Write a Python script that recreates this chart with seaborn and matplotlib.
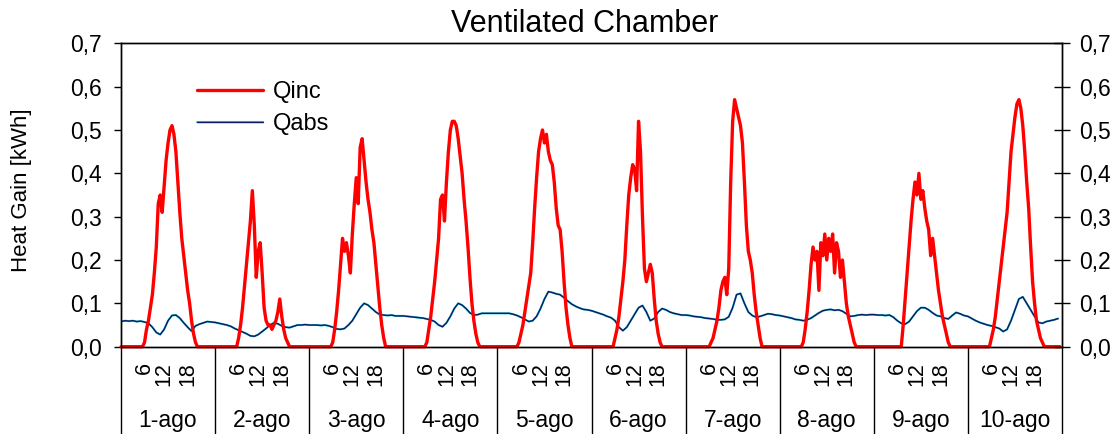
import numpy as np
import pandas as pd
import matplotlib
matplotlib.use("Agg")
import matplotlib.pyplot as plt
from matplotlib.legend_handler import HandlerTuple
import seaborn as sns

# ---------------------------------------------------------------- data
days = ["1-ago", "2-ago", "3-ago", "4-ago", "5-ago",
        "6-ago", "7-ago", "8-ago", "9-ago", "10-ago"]
hour_labels = ["6", "12", "18"]
hour_label_pos = [6, 11, 17]          # hour of the day where each label sits

# Incident heat gain, kWh, half-hourly samples (48 per day)
qinc_d01 = [0, 0, 0, 0, 0, 0, 0, 0, 0, 0, 0, 0,
            0.01, 0.04, 0.06, 0.09, 0.12, 0.17, 0.23, 0.33, 0.35, 0.31,
            0.37, 0.43, 0.47, 0.50, 0.51, 0.49, 0.45, 0.38, 0.31, 0.25,
            0.21, 0.17, 0.13, 0.10, 0.06, 0.03, 0.01,
            0, 0, 0, 0, 0, 0, 0, 0, 0]
qinc_d02 = [0, 0, 0, 0, 0, 0, 0, 0, 0, 0, 0, 0,
            0.02, 0.05, 0.09, 0.14, 0.19, 0.24, 0.29, 0.36, 0.28, 0.16,
            0.22, 0.24, 0.17, 0.09, 0.06, 0.05, 0.05, 0.04, 0.05, 0.06,
            0.08, 0.11, 0.07, 0.04, 0.02, 0.01, 0,
            0, 0, 0, 0, 0, 0, 0, 0, 0]
qinc_d03 = [0, 0, 0, 0, 0, 0, 0, 0, 0, 0, 0, 0,
            0.01, 0.04, 0.08, 0.13, 0.19, 0.25, 0.22, 0.24, 0.21, 0.17,
            0.26, 0.33, 0.39, 0.33, 0.46, 0.48, 0.43, 0.38, 0.34, 0.31,
            0.27, 0.24, 0.19, 0.14, 0.09, 0.05, 0.02, 0,
            0, 0, 0, 0, 0, 0, 0, 0]
qinc_d04 = [0, 0, 0, 0, 0, 0, 0, 0, 0, 0, 0, 0,
            0.01, 0.04, 0.07, 0.11, 0.15, 0.20, 0.25, 0.34, 0.35, 0.29,
            0.38, 0.45, 0.50, 0.52, 0.52, 0.51, 0.48, 0.44, 0.40, 0.34,
            0.29, 0.23, 0.16, 0.10, 0.06, 0.03, 0.01,
            0, 0, 0, 0, 0, 0, 0, 0, 0]
qinc_d05 = [0, 0, 0, 0, 0, 0, 0, 0, 0, 0, 0,
            0.01, 0.03, 0.05, 0.08, 0.11, 0.14, 0.17, 0.24, 0.32, 0.39,
            0.45, 0.48, 0.50, 0.47, 0.49, 0.45, 0.43, 0.42, 0.38, 0.32,
            0.28, 0.27, 0.22, 0.15, 0.09, 0.05, 0.02, 0,
            0, 0, 0, 0, 0, 0, 0, 0, 0]
qinc_d06 = [0, 0, 0, 0, 0, 0, 0, 0, 0, 0, 0, 0,
            0.02, 0.04, 0.07, 0.11, 0.15, 0.20, 0.28, 0.35, 0.39, 0.42,
            0.41, 0.36, 0.52, 0.45, 0.30, 0.18, 0.15, 0.17, 0.19, 0.17,
            0.11, 0.06, 0.03, 0.01, 0,
            0, 0, 0, 0, 0, 0, 0, 0, 0, 0, 0]
qinc_d07 = [0, 0, 0, 0, 0, 0, 0, 0, 0, 0, 0, 0, 0,
            0.01, 0.02, 0.04, 0.06, 0.09, 0.13, 0.15, 0.16, 0.12, 0.18,
            0.38, 0.52, 0.57, 0.55, 0.53, 0.51, 0.47, 0.38, 0.28, 0.22,
            0.20, 0.17, 0.12, 0.08, 0.05, 0.02, 0,
            0, 0, 0, 0, 0, 0, 0, 0]
qinc_d08 = [0, 0, 0, 0, 0, 0, 0, 0, 0, 0, 0, 0,
            0.01, 0.04, 0.08, 0.13, 0.19, 0.23, 0.20, 0.22, 0.13, 0.24,
            0.21, 0.26, 0.20, 0.25, 0.22, 0.26, 0.17, 0.24, 0.22, 0.16,
            0.20, 0.15, 0.10, 0.07, 0.05, 0.03, 0.01, 0,
            0, 0, 0, 0, 0, 0, 0, 0]
qinc_d09 = [0, 0, 0, 0, 0, 0, 0, 0, 0, 0, 0, 0, 0, 0,
            0.0, 0.05, 0.11, 0.17, 0.23, 0.29, 0.34, 0.38, 0.35, 0.40,
            0.34, 0.36, 0.32, 0.29, 0.27, 0.21, 0.25, 0.21, 0.17, 0.13,
            0.10, 0.07, 0.05, 0.03, 0.01, 0,
            0, 0, 0, 0, 0, 0, 0, 0]
qinc_d10 = [0, 0, 0, 0, 0, 0, 0, 0, 0, 0, 0, 0,
            0.02, 0.04, 0.07, 0.11, 0.15, 0.19, 0.23, 0.27, 0.31, 0.38,
            0.45, 0.49, 0.53, 0.56, 0.57, 0.55, 0.51, 0.45, 0.38, 0.32,
            0.23, 0.15, 0.10, 0.06, 0.04, 0.02, 0.01, 0,
            0, 0, 0, 0, 0, 0, 0, 0]

# Absorbed heat gain, kWh, hourly samples (24 per day)
qabs_d01 = [0.058, 0.060, 0.059, 0.060, 0.058, 0.059, 0.057, 0.054, 0.045, 0.033,
            0.028, 0.040, 0.060, 0.072, 0.073, 0.066, 0.055, 0.045, 0.036, 0.048,
            0.052, 0.055, 0.058, 0.057]
qabs_d02 = [0.056, 0.054, 0.052, 0.050, 0.047, 0.042, 0.038, 0.034, 0.030, 0.025,
            0.024, 0.028, 0.035, 0.042, 0.050, 0.055, 0.053, 0.048, 0.045, 0.044,
            0.047, 0.050, 0.050, 0.051]
qabs_d03 = [0.050, 0.050, 0.050, 0.049, 0.050, 0.048, 0.045, 0.041, 0.040, 0.042,
            0.050, 0.060, 0.075, 0.090, 0.100, 0.096, 0.088, 0.080, 0.074, 0.073,
            0.072, 0.073, 0.071, 0.071]
qabs_d04 = [0.071, 0.070, 0.069, 0.068, 0.067, 0.066, 0.064, 0.062, 0.058, 0.050,
            0.046, 0.055, 0.070, 0.088, 0.100, 0.096, 0.088, 0.078, 0.073, 0.074,
            0.077, 0.077, 0.077, 0.077]
qabs_d05 = [0.077, 0.077, 0.077, 0.077, 0.075, 0.072, 0.068, 0.063, 0.058, 0.060,
            0.070, 0.088, 0.110, 0.127, 0.125, 0.122, 0.120, 0.113, 0.105, 0.098,
            0.093, 0.089, 0.086, 0.085]
qabs_d06 = [0.083, 0.080, 0.077, 0.074, 0.070, 0.067, 0.060, 0.045, 0.037, 0.045,
            0.060, 0.075, 0.090, 0.095, 0.080, 0.060, 0.065, 0.080, 0.088, 0.085,
            0.080, 0.077, 0.075, 0.073]
qabs_d07 = [0.073, 0.072, 0.070, 0.069, 0.068, 0.066, 0.065, 0.064, 0.062, 0.062,
            0.063, 0.069, 0.090, 0.120, 0.123, 0.100, 0.080, 0.072, 0.068, 0.070,
            0.073, 0.076, 0.075, 0.073]
qabs_d08 = [0.072, 0.070, 0.068, 0.066, 0.063, 0.062, 0.060, 0.062, 0.066, 0.072,
            0.078, 0.083, 0.085, 0.086, 0.084, 0.085, 0.082, 0.076, 0.070, 0.071,
            0.073, 0.074, 0.073, 0.074]
qabs_d09 = [0.074, 0.073, 0.073, 0.072, 0.073, 0.068, 0.060, 0.054, 0.052, 0.058,
            0.070, 0.082, 0.090, 0.090, 0.085, 0.078, 0.072, 0.070, 0.066, 0.064,
            0.072, 0.079, 0.076, 0.072]
qabs_d10 = [0.070, 0.065, 0.060, 0.056, 0.053, 0.050, 0.048, 0.045, 0.042, 0.035,
            0.040, 0.060, 0.085, 0.110, 0.115, 0.100, 0.085, 0.070, 0.056, 0.054,
            0.058, 0.060, 0.062, 0.065]

y_ticks = [0.0, 0.1, 0.2, 0.3, 0.4, 0.5, 0.6, 0.7]
y_tick_labels = ["0,0", "0,1", "0,2", "0,3", "0,4", "0,5", "0,6", "0,7"]

qinc = (qinc_d01 + qinc_d02 + qinc_d03 + qinc_d04 + qinc_d05
        + qinc_d06 + qinc_d07 + qinc_d08 + qinc_d09 + qinc_d10)
qabs = (qabs_d01 + qabs_d02 + qabs_d03 + qabs_d04 + qabs_d05
        + qabs_d06 + qabs_d07 + qabs_d08 + qabs_d09 + qabs_d10)

inc_df = pd.DataFrame({"hour": np.arange(len(qinc)) * 0.5, "kwh": qinc})
abs_df = pd.DataFrame({"hour": np.arange(len(qabs)) * 1.0, "kwh": qabs})
n_hours = 24 * len(days)

# ---------------------------------------------------------------- style
sns.set_theme(style="white")
plt.rcParams["font.family"] = ["Liberation Sans", "DejaVu Sans"]
plt.rcParams["axes.edgecolor"] = "black"
plt.rcParams["axes.linewidth"] = 1.0
plt.rcParams["text.color"] = "black"
plt.rcParams["xtick.color"] = "black"
plt.rcParams["ytick.color"] = "black"
plt.rcParams["xtick.labelcolor"] = "black"
plt.rcParams["ytick.labelcolor"] = "black"

W, H = 1118, 434
fig = plt.figure(figsize=(W / 100, H / 100), dpi=100)
left, right, top, bottom = 121, 1062, 43.3, 346.7
ax = fig.add_axes([left / W, 1 - bottom / H, (right - left) / W, (bottom - top) / H])

# Qinc: thick red line
sns.lineplot(data=inc_df, x="hour", y="kwh", ax=ax, color="#ff0000",
             linewidth=2.4, clip_on=False, zorder=4, legend=False)
# Qabs: thin dark navy line with a cyan fringe
sns.lineplot(data=abs_df, x="hour", y="kwh", ax=ax, color="#30c8d8",
             linewidth=1.5, zorder=3, legend=False)
sns.lineplot(data=abs_df, x="hour", y="kwh", ax=ax, color="#0c1a60",
             linewidth=1.0, zorder=3.1, legend=False)

lines = ax.get_lines()
red_line, cyan_line, navy_line = lines[0], lines[1], lines[2]

ax.set_xlim(0, n_hours)
ax.set_ylim(0, 0.7)
ax.set_xlabel("")
ax.set_ylabel("")
for side in ["left", "right", "top", "bottom"]:
    ax.spines[side].set_visible(True)
    ax.spines[side].set_color("black")
    ax.spines[side].set_linewidth(1.0)

# y axis (left)
ax.set_yticks(y_ticks)
ax.set_yticklabels(y_tick_labels)
ax.tick_params(axis="y", which="major", direction="out", length=5,
               width=1, color="black", labelcolor="black",
               labelsize=16.5, pad=9, left=True)

# y axis (right, mirrored)
ax_r = ax.twinx()
ax_r.set_ylim(0, 0.7)
ax_r.set_yticks(y_ticks)
ax_r.set_yticklabels(y_tick_labels)
ax_r.tick_params(axis="y", direction="inout", length=12, width=1,
                 color="black", labelcolor="black", labelsize=16.5,
                 pad=6, right=True)
ax_r.grid(False)

# x axis: long day separators, rotated hour labels, day names below
day_edges = np.arange(0, n_hours + 1, 24)
ax.set_xticks(day_edges)
ax.set_xticklabels([""] * len(day_edges))
ax.tick_params(axis="x", which="major", direction="out", length=64,
               width=1, color="black", bottom=True)
minor_pos = [d * 24 + h for d in range(len(days)) for h in hour_label_pos]
ax.set_xticks(minor_pos, minor=True)
ax.set_xticklabels(hour_labels * len(days), minor=True, rotation=90)
ax.tick_params(axis="x", which="minor", length=0, labelsize=15.5, pad=11,
               labelcolor="black")
ax.grid(False)

for i, name in enumerate(days):
    ax.text(i * 24 + 12, -0.2416, name, transform=ax.get_xaxis_transform(),
            ha="center", va="center", fontsize=16.5, color="black")

# legend
leg = ax.legend([red_line, (cyan_line, navy_line)], ["Qinc", "Qabs"],
                handler_map={tuple: HandlerTuple(ndivide=1, pad=0)},
                loc="upper left", bbox_to_anchor=(0.081, 0.876),
                frameon=False, fontsize=17, handlelength=2.8,
                handletextpad=0.4, labelspacing=0.42, borderpad=0,
                borderaxespad=0, labelcolor="black")

fig.text(585 / W, 1 - 24 / H, "Ventilated Chamber", ha="center", va="center",
         fontsize=22, color="black")
fig.text(22 / W, 1 - 190 / H, "Heat Gain [kWh]", rotation=90, ha="center",
         va="center", fontsize=16, color="black")

fig.savefig("out.png", dpi=100, facecolor="white")
